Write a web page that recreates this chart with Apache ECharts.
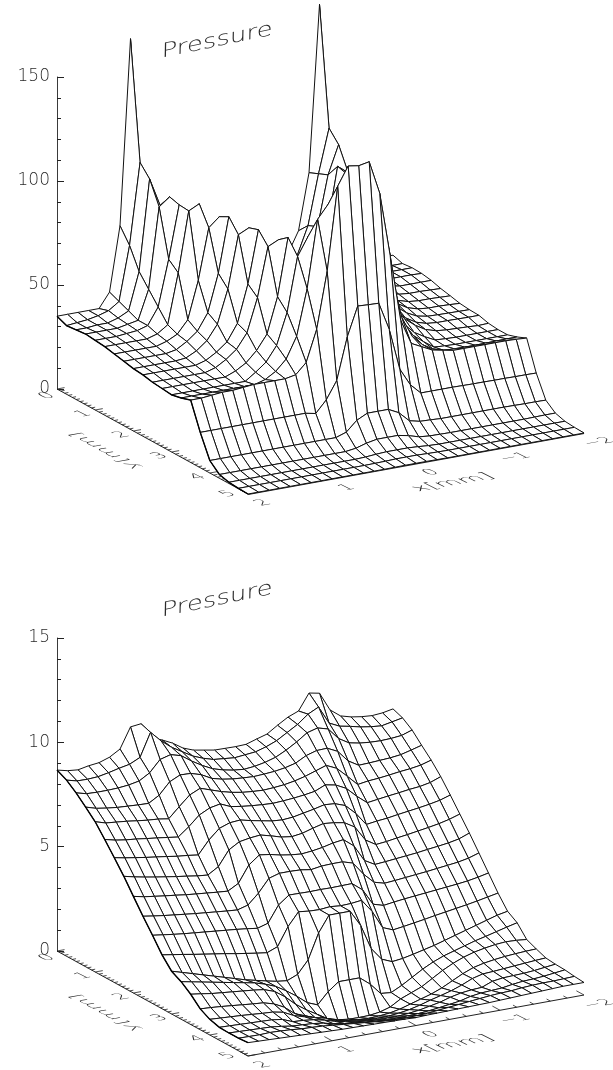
<!DOCTYPE html>
<html><head><meta charset="utf-8">
<style>html,body{margin:0;padding:0;background:#fff}#c{width:613px;height:1070px}</style>
<script src="https://cdn.jsdelivr.net/npm/echarts@6/dist/echarts.min.js"></script>
</head><body><div id="c"></div>
<script>
const titleText = 'Pressure';
const xTitle = 'x[mm]';
const yTitle = 'y[mm]';
const xTicks = [2, 1, 0, -1, -2];
const yTicks = [0, 1, 2, 3, 4, 5];
const xGrid = [2,1.875,1.75,1.625,1.5,1.375,1.25,1.125,1,0.875,0.75,0.625,0.5,0.375,0.25,0.125,0,-0.125,-0.25,-0.375,-0.5,-0.625,-0.75,-0.875,-1,-1.125,-1.25,-1.375,-1.5,-1.625,-1.75,-1.875,-2];
const yGrid = [0,0.25,0.5,0.75,1,1.25,1.5,1.75,2,2.25,2.5,2.75,3,3.25,3.5,3.75,4,4.25,4.5,4.75,5];

const pressureTop = [
[35,35,35,35,35,42,73,162,82,55,45,40,38,37,36,36,36,36,36,37,38,40,45,55,82,162,73,42,35,35,35,35,35],
[33,33.5,34,35,36.5,40,66,105,84,60,47,42,40,38,37,37,37,37,37,38,40,42,47,60,84,105,66,40,36.5,35,34,33.5,33.5],
[33.5,33.5,34,34,35.5,38,56,99.6,86,62,48,43,41,39,38,38,38,38,38,39,41,43,48,62,86,99.6,56,38,35.5,34,34,34,34],
[34,34,34,34,35,36,50,88.7,92.6,64,49,43,41,39,38,38,38,38,38,39,41,43,49,64,92.6,88.7,50,36,35,34,34,34,33.8],
[33.5,33.5,33.5,34,34.5,36,44,66,91.3,66,50,44,41,39,38,38,38,38,38,39,41,44,50,66,91.3,66,44,36,34,33,33,33,33],
[33,33,33,33,33,34.5,38,62,90.9,93.4,66,50,44,41,39,38,38,38,39,41,44,50,66,93.4,90.9,62,38,34,32.5,32,32,31.8,31.6],
[32,32,32,32,32,33.5,36,42,60,84.4,88.8,62,48,42,40,39,38,39,40,42,48,62,88.8,84.4,60,42,36,33,31.5,31,31,30.8,30.6],
[31,31,31,31,31,32,35,39,47,65,91.3,64,48,42,40,39,38,39,40,42,48,64,91.3,65,47,39,35,32,30.5,30,30,29.8,29.5],
[30,30,30,30,30,30.5,33,37,44,60,85.2,87.6,62,48,42,40,39,40,42,48,62,87.6,85.2,60,44,37,33,30.5,29.5,29.3,29.2,29.1,29],
[29.5,29.5,29.5,29.5,29.5,29.5,31,34,38,46,64,89.2,63,48,42,40,39,40,42,48,63,89.2,64,46,38,34,31,29.5,29,29,28.9,28.8,28.8],
[28.5,28.5,28.5,28.5,28.5,28.5,30,33,37,44,60,83.6,86,62,50,45,43,45,50,62,86,83.6,60,44,37,33,30,28.5,28,27.8,27.6,27.3,27.5],
[28,28,28,28,28,28,28,30,33,38,45,62,89.6,66,52,46,44,46,52,66,89.6,62,45,38,33,30,27.5,27.2,27,27,27,27,27],
[27.5,27.5,27.5,27.5,27.5,27.5,27.5,27.5,31,35,42,57,83,91.7,70,55,50,55,70,91.7,83,57,42,35,31,27.5,27.2,27,27,27,27,27,27],
[28.5,28.5,28.5,28.5,28.5,28.5,28.5,28.5,30,33,38,48,70,102.5,108.8,90,80,90,108.8,102.5,70,48,38,33,30,28.5,28.3,28.2,28.2,28.3,28.4,28.5,28.5],
[30,30,30.5,31,31,31.5,32,32,32,32,33,38,53,80,120,128.8,128,129,113,82,50,38,35.5,33,32,31,31,31,31,31,31,30.8,30.5],
[17,17,17,17,17,17,17,17,17,17,17,16,21.6,30,50,64,63.7,63.5,50,30,21.6,16.7,16.7,16.7,16.7,16.6,16.5,16.5,16.4,16.4,16.3,16.3,16.2],
[6,6,6,6,6,6,6,6,6,6,6,6,6,7.7,12.5,15,15,15,12.5,7.7,6.5,6.3,6,6,6,6,6,6,6,5.9,5.8,5.8,5.7],
[1.8,1.8,1.8,1.8,1.8,1.8,1.8,1.8,1.8,1.8,1.8,1.8,1.8,2.5,4,5,5,5,4,2.5,2,1.9,1.8,1.8,1.8,1.8,1.8,1.8,1.8,1.8,1.9,2,2],
[0.6,0.6,0.6,0.6,0.6,0.6,0.6,0.6,0.6,0.6,0.6,0.6,0.6,0.8,1.2,1.5,1.5,1.5,1.2,0.8,0.6,0.6,0.6,0.6,0.6,0.6,0.6,0.6,0.6,0.6,0.6,0.6,0.6],
[0.2,0.2,0.2,0.2,0.2,0.2,0.2,0.2,0.2,0.2,0.2,0.2,0.2,0.3,0.4,0.6,0.6,0.6,0.4,0.3,0.2,0.2,0.2,0.2,0.2,0.2,0.2,0.2,0.2,0.2,0.2,0.2,0.2],
[0,0,0,0,0,0,0,0,0,0,0,0,0,0,0.05,0.1,0.1,0.1,0.05,0,0,0,0,0,0,0,0,0,0,0,0,0,0]
];

const pressureBottom = [
[8.67,8.55,8.5,8.6,8.66,8.83,9.13,10.1,10.16,9.4,9.2,8.96,8.63,8.44,8.35,8.26,8.25,8.24,8.26,8.42,8.57,8.9,9.2,9.4,10.17,10.07,9.18,8.8,8.66,8.58,8.54,8.58,8.68],
[8.44,8.31,8.3,8.33,8.43,8.55,8.65,8.89,10.0,9.5,9.1,8.8,8.5,8.3,8.15,8.1,8.05,8.1,8.15,8.3,8.5,8.8,9.1,9.5,9.75,8.89,8.65,8.55,8.43,8.35,8.3,8.4,8.5],
[8.08,7.95,7.93,7.93,7.95,8.0,8.1,8.4,8.95,9.09,8.95,8.6,8.3,8.05,7.9,7.8,7.75,7.8,7.9,8.05,8.3,8.6,8.95,9.09,8.95,8.4,8.1,8.0,7.95,7.93,7.95,8.0,8.17],
[7.65,7.5,7.42,7.36,7.33,7.3,7.28,7.58,8.13,8.37,8.35,8.2,7.93,7.8,7.72,7.68,7.65,7.68,7.72,7.8,7.93,8.2,8.35,8.37,8.13,7.58,7.28,7.3,7.33,7.36,7.42,7.55,7.69],
[7.2,7.05,7.0,6.95,6.88,6.82,6.78,6.7,7.19,7.66,7.89,7.72,7.55,7.42,7.33,7.28,7.25,7.28,7.33,7.42,7.55,7.72,7.89,7.66,7.19,6.7,6.78,6.82,6.88,6.95,7.0,7.08,7.23],
[6.6,6.48,6.4,6.35,6.28,6.22,6.15,6.08,6.48,6.95,7.2,7.3,7.08,7.0,6.94,6.9,6.87,6.9,6.94,7.0,7.08,7.3,7.2,6.95,6.48,6.08,6.15,6.22,6.28,6.35,6.4,6.5,6.69],
[5.98,5.88,5.8,5.72,5.65,5.58,5.5,5.45,5.38,6.0,6.47,6.65,6.69,6.57,6.47,6.37,6.33,6.37,6.47,6.57,6.69,6.65,6.47,6.0,5.38,5.45,5.5,5.58,5.65,5.72,5.8,5.9,6.06],
[5.34,5.22,5.12,5.03,4.95,4.87,4.8,4.72,4.67,4.98,5.69,5.99,6.08,6.13,6.0,5.85,5.78,5.85,6.0,6.13,6.08,5.99,5.69,4.98,4.67,4.72,4.8,4.87,4.95,5.03,5.12,5.24,5.4],
[4.63,4.52,4.45,4.38,4.32,4.25,4.2,4.15,4.1,4.06,4.34,5.13,5.52,5.45,5.33,5.25,5.2,5.25,5.33,5.45,5.52,5.13,4.34,4.06,4.1,4.15,4.2,4.25,4.32,4.38,4.45,4.55,4.74],
[3.93,3.85,3.78,3.72,3.66,3.6,3.55,3.5,3.45,3.41,3.55,4.03,4.65,4.8,4.8,4.78,4.7,4.78,4.8,4.8,4.65,4.03,3.55,3.41,3.45,3.5,3.55,3.6,3.66,3.72,3.78,3.88,4.04],
[3.27,3.2,3.13,3.07,3.02,2.97,2.92,2.87,2.82,2.76,2.69,2.84,3.62,4.01,4.0,3.99,4.0,3.99,4.0,4.01,3.62,2.84,2.69,2.76,2.82,2.87,2.92,2.97,3.02,3.07,3.13,3.22,3.33],
[2.58,2.5,2.42,2.33,2.25,2.17,2.09,2.0,1.92,1.84,1.77,1.97,2.84,3.46,3.4,3.38,3.43,3.38,3.4,3.46,2.84,1.97,1.77,1.84,1.92,2.0,2.09,2.17,2.25,2.33,2.42,2.52,2.62],
[2.05,1.9,1.75,1.6,1.45,1.3,1.15,1.0,0.88,0.76,0.65,0.59,0.8,1.4,2.6,3.37,3.37,3.37,2.6,1.4,0.8,0.59,0.65,0.76,0.88,1.0,1.15,1.3,1.45,1.6,1.75,1.9,2.0],
[1.8,1.7,1.6,1.5,1.4,1.3,1.2,1.1,0.95,0.75,0.45,0.1,-0.3,-0.5,0.04,0.43,0.43,0.43,0.04,-0.5,-0.55,-0.3,0,0.3,0.55,0.75,0.9,1.05,1.2,1.32,1.45,1.58,1.7],
[1.45,1.38,1.3,1.25,1.2,1.15,1.1,1.03,0.85,0.5,0.05,-0.3,-0.6,-0.9,-1.05,-1.12,-1.13,-1.12,-1.05,-0.9,-0.6,-0.4,-0.2,0.1,0.4,0.65,0.85,1.0,1.1,1.18,1.22,1.2,1.15],
[1.0,0.97,0.93,0.88,0.83,0.78,0.74,0.6,0.35,-0.05,-0.25,-0.45,-0.6,-0.75,-0.85,-0.9,-0.92,-0.9,-0.85,-0.75,-0.6,-0.45,-0.3,-0.1,0.15,0.4,0.6,0.72,0.8,0.86,0.9,0.93,0.95],
[0.75,0.72,0.69,0.66,0.62,0.58,0.55,0.45,0.2,0.05,-0.08,-0.2,-0.4,-0.52,-0.6,-0.65,-0.66,-0.65,-0.6,-0.52,-0.4,-0.25,-0.12,0.02,0.2,0.42,0.55,0.58,0.62,0.66,0.7,0.74,0.77],
[0.62,0.6,0.58,0.56,0.54,0.52,0.45,0.25,0.22,0.16,0.05,-0.1,-0.2,-0.3,-0.36,-0.4,-0.4,-0.4,-0.36,-0.3,-0.2,-0.1,0.05,0.16,0.22,0.25,0.45,0.52,0.54,0.56,0.6,0.66,0.72],
[0.6,0.58,0.56,0.54,0.52,0.46,0.38,0.35,0.32,0.25,0.12,0.05,-0.02,-0.08,-0.12,-0.14,-0.15,-0.14,-0.12,-0.08,-0.02,0.05,0.12,0.25,0.32,0.35,0.38,0.46,0.52,0.54,0.58,0.64,0.7],
[0.6,0.59,0.58,0.6,0.58,0.55,0.5,0.48,0.45,0.4,0.35,0.3,0.25,0.2,0.15,0.13,0.12,0.13,0.15,0.2,0.25,0.3,0.35,0.4,0.45,0.48,0.5,0.55,0.58,0.6,0.6,0.62,0.64],
[0.64,0.62,0.6,0.58,0.56,0.54,0.52,0.5,0.48,0.46,0.45,0.44,0.43,0.42,0.41,0.4,0.38,0.4,0.41,0.42,0.43,0.44,0.45,0.46,0.48,0.5,0.52,0.54,0.56,0.58,0.6,0.6,0.6]
];

const panels = [
  {z: pressureTop, zMax: 150, zStep: 50, top: 77, height: 312, title: [217, 41], frontW: 2},
  {z: pressureBottom, zMax: 15, zStep: 5, top: 638, height: 313, title: [217, 600], frontW: 1}
];
const FONT = '"DejaVu Sans Light","DejaVu Sans ExtraLight","DejaVu Sans",sans-serif';
const WIDTH = 527;

function projector(p) {
  const k = p.height / p.zMax;
  return (x, y, z) => [(2 - x) / 4 * 336 + y / 5 * 191, z + ((2 - x) / 4 * 61 - y / 5 * 105) / k];
}
// builds rotation/scale/skew from the screen vectors of the text's x and down directions
function textFrame(bx, by, dx, dy) {
  const rot = Math.atan2(-by, bx);
  const c = Math.cos(rot), s = Math.sin(rot);
  const sx = Math.hypot(bx, by);
  const lx = c * dx - s * dy, ly = s * dx + c * dy;
  return {rotation: rot, scaleX: sx, scaleY: ly, skewX: Math.atan(lx / ly)};
}
function glyph(x, y, text, frame, size) {
  return Object.assign({type: 'text', x, y, silent: true, style: {
    text, x: 0, y: 0, align: 'center', verticalAlign: 'middle', fill: '#2a2a2a',
    font: 'normal ' + size + 'px ' + FONT}}, frame);
}
const tickFrame = textFrame(1.3, -0.23, 1.0, 0.5);
const xTitleFrame = textFrame(1.55, -0.28, 1.0, 0.5);
const yTitleFrame = textFrame(-1.3, -0.72, 1.0, -0.18);
const titleFrame = textFrame(1.3, -0.27, -0.02, 1.0);

const grid = [], xAxis = [], yAxis = [], series = [];
panels.forEach((p, n) => {
  const proj = projector(p);
  grid.push({left: 57, top: p.top, width: WIDTH, height: p.height});
  xAxis.push({type: 'value', gridIndex: n, min: 0, max: WIDTH, show: false});
  yAxis.push({type: 'value', gridIndex: n, min: 0, max: p.zMax, interval: p.zStep, position: 'left',
    axisLine: {show: true, lineStyle: {color: '#3a3a3a', width: 1}},
    axisTick: {show: true, inside: true, length: 7, lineStyle: {color: '#222', width: 1}},
    minorTick: {show: true, splitNumber: 5, length: 4, lineStyle: {color: '#222', width: 1}},
    splitLine: {show: false}, minorSplitLine: {show: false},
    axisLabel: {show: true, margin: 7, fontSize: 17, color: '#2a2a2a', fontFamily: FONT,
      showMinLabel: true, showMaxLabel: true, hideOverlap: false}});
  const base = (n2) => ({type: 'custom', xAxisIndex: n, yAxisIndex: n, clip: false, silent: true,
    animation: false, encode: {x: 0, y: 1}, z: n2});

  // floor axes, ticks and their labels
  const segs = [];
  segs.push([2, 0, 2, 5, 1], [2, 5, -2, 5, p.frontW]);
  for (let i = 0; i <= 50; i++) { const y = i / 10; const L = i % 10 === 0 ? 0.09 : 0.045; segs.push([2, y, 2 - L, y, 0.8]); }
  for (let i = 0; i <= 20; i++) { const x = 2 - i / 5; const L = i % 5 === 0 ? 0.2 : 0.1; segs.push([x, 5, x, 5 - L, 0.8]); }
  series.push(Object.assign(base(2), {
    data: segs,
    renderItem: (params, api) => {
      const s = segs[params.dataIndex];
      const a = api.coord(proj(s[0], s[1], 0)), b = api.coord(proj(s[2], s[3], 0));
      return {type: 'line', shape: {x1: a[0], y1: a[1], x2: b[0], y2: b[1]},
        style: {stroke: '#222', lineWidth: s[4]}};
    }
  }));
  // surface, back to front
  const cells = [];
  for (let r = 0; r < yGrid.length - 1; r++)
    for (let c = xGrid.length - 2; c >= 0; c--) cells.push([r, c]);
  series.push(Object.assign(base(3), {
    data: cells,
    renderItem: (params, api) => {
      const [r, c] = cells[params.dataIndex];
      const pt = (i, j) => api.coord(proj(xGrid[j], yGrid[i], p.z[i][j]));
      return {type: 'polygon', shape: {points: [pt(r, c), pt(r, c + 1), pt(r + 1, c + 1), pt(r + 1, c)]},
        style: {fill: '#fff', stroke: '#111', lineWidth: 1, lineJoin: 'round'}};
    }
  }));
  // heavier left edge of the surface
  series.push(Object.assign(base(4), {
    data: [[0, 0]],
    renderItem: (params, api) => ({type: 'polyline',
      shape: {points: yGrid.map((y, i) => api.coord(proj(xGrid[0], y, p.z[i][0])))},
      style: {fill: null, stroke: '#000', lineWidth: 1.4}})
  }));
  // tilted text
  const labels = [];
  yTicks.forEach(t => labels.push(['y', t]));
  xTicks.forEach(t => labels.push(['x', t]));
  labels.push(['xt', 0], ['yt', 0], ['t', 0]);
  series.push(Object.assign(base(5), {
    data: labels.map((l, i) => [i, 0]),
    renderItem: (params, api) => {
      const [kind, v] = labels[params.dataIndex];
      if (kind === 'y') { const a = api.coord(proj(2, v, 0));
        const off = v === 5 ? [-20, 0] : v === 0 ? [-10, 7] : [-12, 4];
        return glyph(a[0] + off[0], a[1] + off[1], String(v), tickFrame, 14); }
      if (kind === 'x') { const a = api.coord(proj(v, 5, 0));
        return glyph(a[0] + 15, a[1] + 9, String(v).replace('-', '\u2212'), tickFrame, 14); }
      if (kind === 'xt') { const a = api.coord(proj(0, 5, 0));
        return glyph(a[0] + 37, a[1] + 19, xTitle, xTitleFrame, 15); }
      if (kind === 'yt') { const a = api.coord(proj(2, 2.5, 0));
        return glyph(a[0] - 47, a[1] + 9, yTitle, yTitleFrame, 15); }
      return glyph(p.title[0], p.title[1], titleText, titleFrame, 20);
    }
  }));
});

const chart = echarts.init(document.getElementById('c'), null, {renderer: 'canvas', width: 613, height: 1070});
chart.setOption({animation: false, backgroundColor: '#fff', tooltip: {show: false}, grid, xAxis, yAxis, series});
</script>
</body></html>
